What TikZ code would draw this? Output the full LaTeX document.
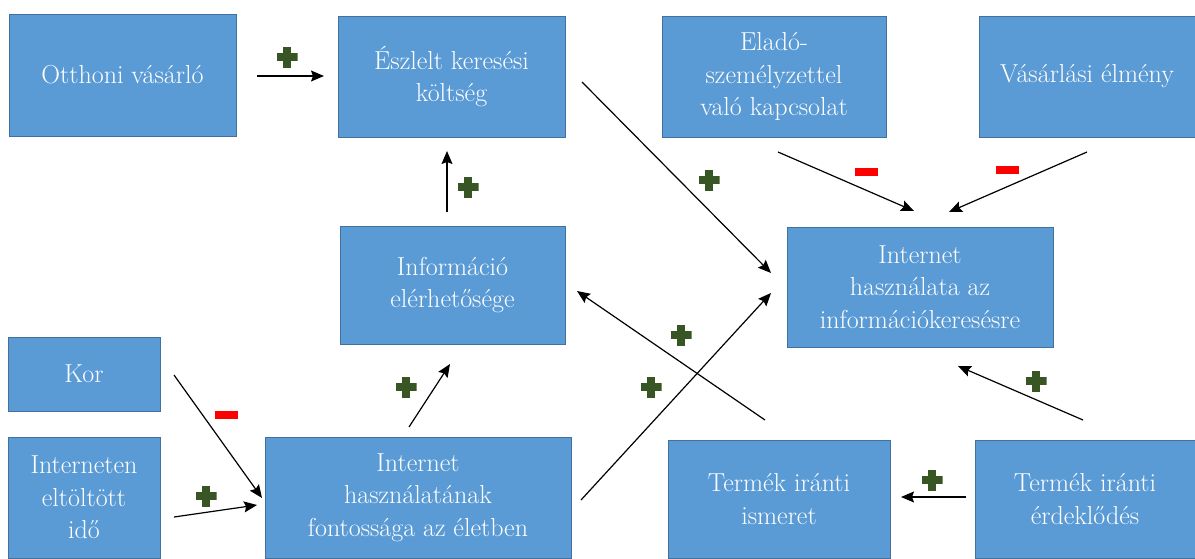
\documentclass[tikz,border=0pt]{standalone}
\usetikzlibrary{arrows.meta}
\definecolor{boxblue}{HTML}{5B9BD5}
\definecolor{boxedge}{HTML}{41719C}
\definecolor{plusgreen}{HTML}{375623}
\definecolor{minusred}{HTML}{FF0000}

\begin{document}
\begin{tikzpicture}[x=1pt,y=-1pt,
  factor/.style={draw=boxedge, line width=1pt, fill=boxblue, text=white,
    align=center, inner sep=0pt,
    font=\fontsize{26}{32.5}\selectfont},
  link/.style={-{Stealth[length=13pt,width=11pt,inset=2pt]}, line width=1.2pt, black},
  plus/.style={inner sep=0pt, minimum width=21pt, minimum height=21pt,
    path picture={
      \fill[plusgreen] ([xshift=-10.5pt,yshift=-3.75pt]path picture bounding box.center)
        rectangle ([xshift=10.5pt,yshift=3.75pt]path picture bounding box.center);
      \fill[plusgreen] ([xshift=-3.75pt,yshift=-10.5pt]path picture bounding box.center)
        rectangle ([xshift=3.75pt,yshift=10.5pt]path picture bounding box.center);
    }},
  minus/.style={inner sep=0pt, minimum width=23pt, minimum height=8.5pt, fill=minusred},
]
\useasboundingbox (0,0) rectangle (1195,558);

% factor boxes
\node[factor, minimum width=227pt, minimum height=122pt] (home)   at (122.5,75)  {Otthoni vásárló};
\node[factor, minimum width=227pt, minimum height=121pt] (cost)   at (451.5,76.5) {Észlelt keresési\\költség};
\node[factor, minimum width=224pt, minimum height=121pt] (staff)  at (774,76.5)  {Eladó-\\személyzettel\\való kapcsolat};
\node[factor, minimum width=216pt, minimum height=121pt] (exper)  at (1087,76.5) {Vásárlási élmény};
\node[factor, minimum width=225pt, minimum height=118pt] (info)   at (452.5,285) {Információ\\elérhetősége};
\node[factor, minimum width=266pt, minimum height=120pt] (search) at (920,287)   {Internet\\használata az\\információkeresésre};
\node[factor, minimum width=152pt, minimum height=74pt]  (age)    at (84,374)    {Kor};
\node[factor, minimum width=152pt, minimum height=121pt] (time)   at (84,497.5)  {Interneten\\eltöltött\\idő};
\node[factor, minimum width=306pt, minimum height=121pt] (import) at (418,497.5) {Internet\\használatának\\fontossága az életben};
\node[factor, minimum width=222pt, minimum height=118pt] (know)   at (779,499)   {Termék iránti\\ismeret};
\node[factor, minimum width=220pt, minimum height=118pt] (inter)  at (1085,499)  {Termék iránti\\érdeklődés};

% arrow end points
\coordinate (homeS)   at (257,76);   \coordinate (homeT)   at (324,76);
\coordinate (infoS)   at (447,212);  \coordinate (infoT)   at (447,151);
\coordinate (costS)   at (582,82);   \coordinate (costT)   at (771,273);
\coordinate (staffS)  at (778,152);  \coordinate (staffT)  at (914,211);
\coordinate (experS)  at (1087,152); \coordinate (experT)  at (949,212);
\coordinate (ageS)    at (174,375);  \coordinate (ageT)    at (262,498);
\coordinate (timeS)   at (174,517);  \coordinate (timeT)   at (257,505);
\coordinate (impS)    at (409,427);  \coordinate (impT)    at (450,364);
\coordinate (impR)    at (581,500);  \coordinate (impRT)   at (771,293);
\coordinate (knowS)   at (765,420);  \coordinate (knowT)   at (577,291);
\coordinate (interS)  at (1083,420); \coordinate (interT)  at (958,366);
\coordinate (interL)  at (966,497);  \coordinate (interLT) at (901,497);

% causal links
\draw[link] (homeS) -- (homeT);
\draw[link] (infoS) -- (infoT);
\draw[link] (costS) -- (costT);
\draw[link] (staffS) -- (staffT);
\draw[link] (experS) -- (experT);
\draw[link] (ageS) -- (ageT);
\draw[link] (timeS) -- (timeT);
\draw[link] (impS) -- (impT);
\draw[link] (impR) -- (impRT);
\draw[link] (knowS) -- (knowT);
\draw[link] (interS) -- (interT);
\draw[link] (interL) -- (interLT);

% polarity signs
\node[plus]  (p1)  at (287,57)   {};
\node[plus]  (p2)  at (468,187)  {};
\node[plus]  (p3)  at (709,180)  {};
\node[minus] (m1)  at (866,172)  {};
\node[minus] (m2)  at (1007,170) {};
\node[minus] (m3)  at (226,415)  {};
\node[plus]  (p4)  at (206,496)  {};
\node[plus]  (p5)  at (406,387)  {};
\node[plus]  (p6)  at (651,387)  {};
\node[plus]  (p7)  at (681,335)  {};
\node[plus]  (p8)  at (1036,381) {};
\node[plus]  (p9)  at (932,480)  {};
\end{tikzpicture}
\end{document}
